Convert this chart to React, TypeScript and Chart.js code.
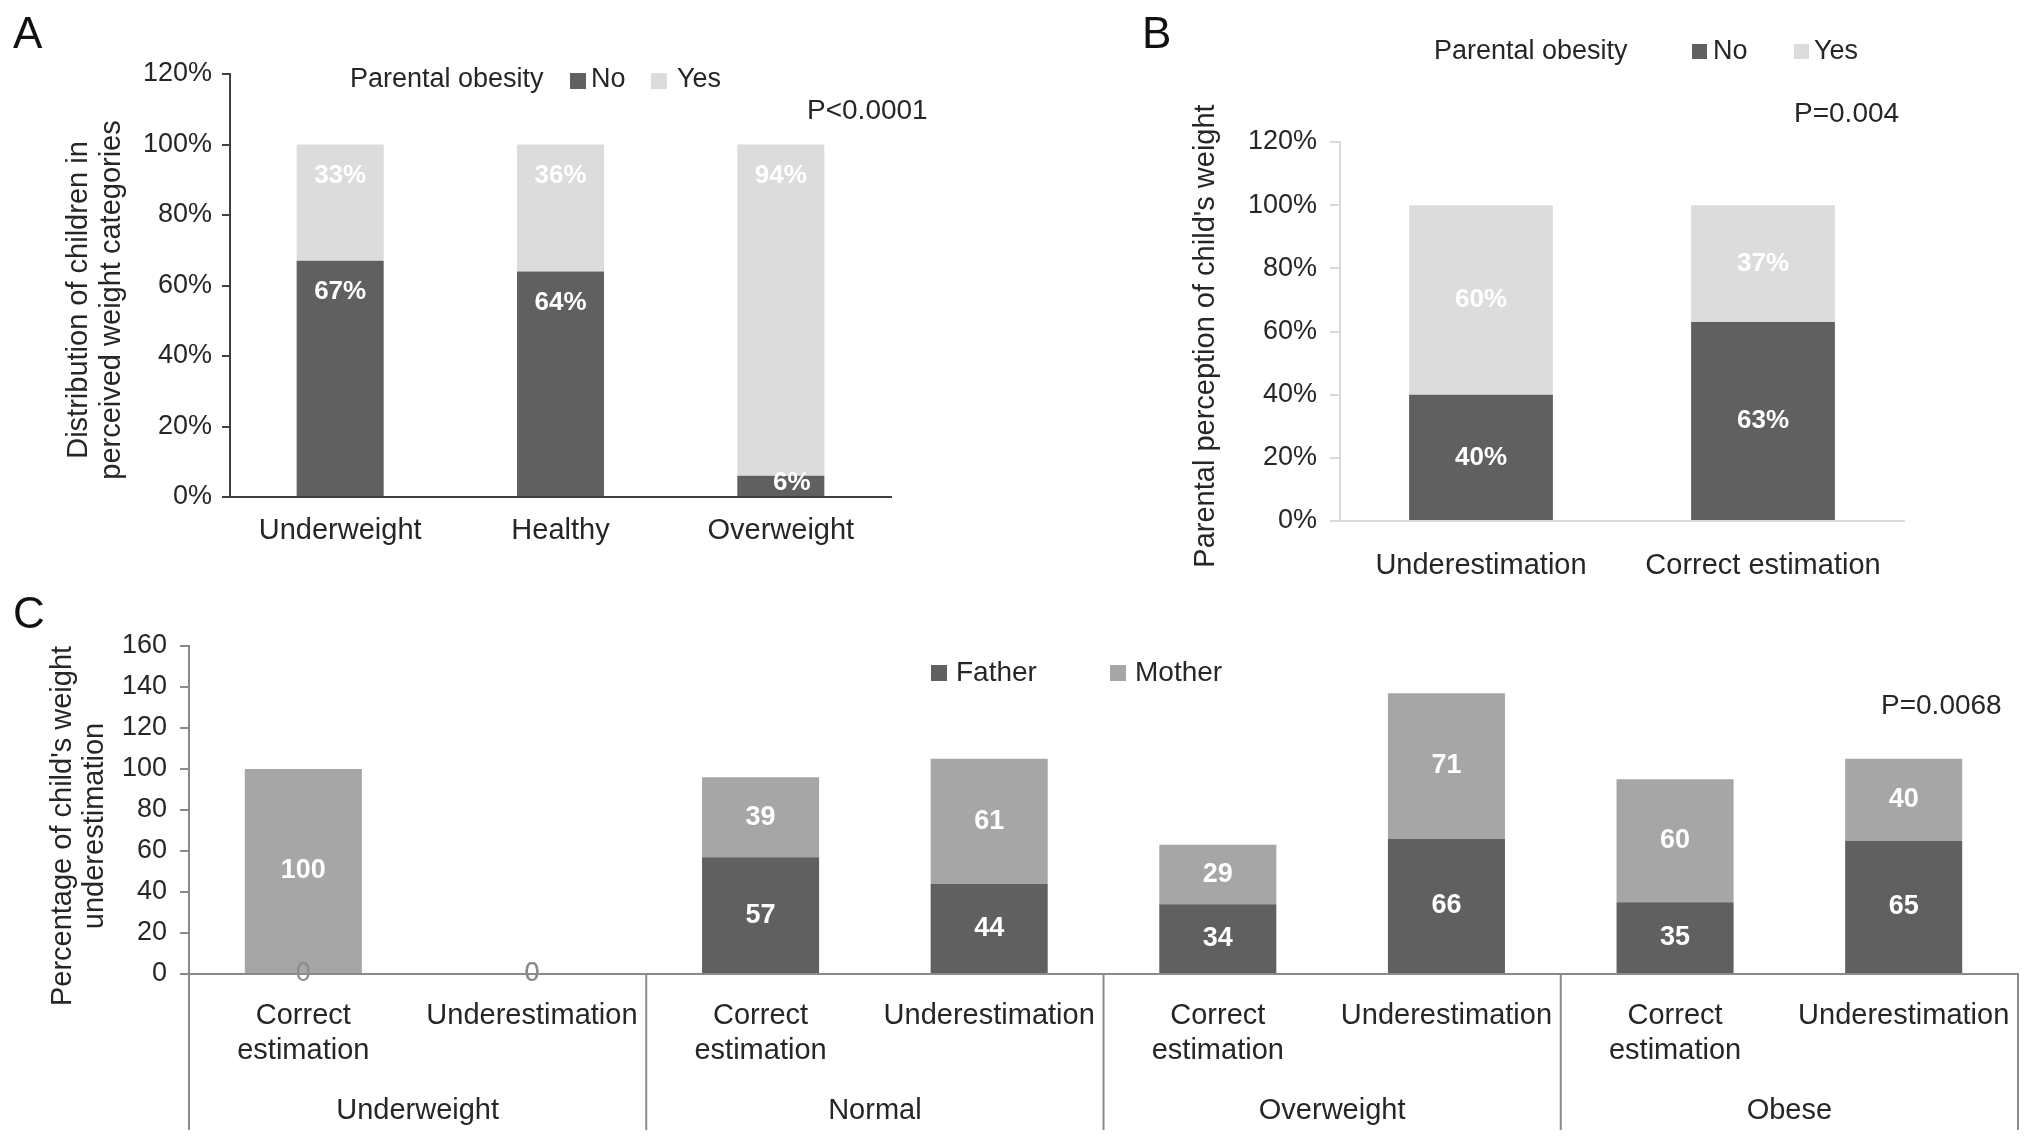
import React, { useEffect, useRef } from 'react';
import { Chart, registerables } from 'chart.js';

Chart.register(...registerables);

const FONT = "'Liberation Sans', Arial, Helvetica, sans-serif";
const TXT = '#262626';
const DARK = '#606060';
const LIGHT = '#dcdcdc';
const MID = '#a6a6a6';
const ZERO = '#8c8c8c';

// ---------- Panel A ----------
const categoriesA = ['Underweight', 'Healthy', 'Overweight'];
const noA = [67, 64, 6];
const yesA = [33, 36, 94];
const legendTitleA = 'Parental obesity';
const pValueA = 'P<0.0001';
const yTitleA = ['Distribution of children in', 'perceived weight categories'];

// ---------- Panel B ----------
const categoriesB = ['Underestimation', 'Correct estimation'];
const noB = [40, 63];
const yesB = [60, 37];
const legendTitleB = 'Parental obesity';
const pValueB = 'P=0.004';
const yTitleB = "Parental perception of child's weight";

// ---------- Panel C ----------
const subCategoriesC: (string | string[])[] = [
  ['Correct', 'estimation'], 'Underestimation',
  ['Correct', 'estimation'], 'Underestimation',
  ['Correct', 'estimation'], 'Underestimation',
  ['Correct', 'estimation'], 'Underestimation',
];
const groupsC = ['Underweight', 'Normal', 'Overweight', 'Obese'];
const fatherC = [0, 0, 57, 44, 34, 66, 35, 65];
const motherC = [100, 0, 39, 61, 29, 71, 60, 40];
const pValueC = 'P=0.0068';
const yTitleC = ["Percentage of child's weight", 'underestimation'];

const percentMax = 120;
const countMax = 160;
const tickStep = 20;

function txt(ctx: CanvasRenderingContext2D, s: string, x: number, y: number, size: number,
  align: CanvasTextAlign = 'left', baseline: CanvasTextBaseline = 'middle', color = TXT) {
  ctx.save();
  ctx.font = `${size}px ${FONT}`;
  ctx.fillStyle = color;
  ctx.textAlign = align;
  ctx.textBaseline = baseline;
  ctx.fillText(s, x, y);
  ctx.restore();
}

function rotTxt(ctx: CanvasRenderingContext2D, s: string, x: number, y: number, size: number) {
  ctx.save();
  ctx.translate(x, y);
  ctx.rotate(-Math.PI / 2);
  ctx.font = `${size}px ${FONT}`;
  ctx.fillStyle = TXT;
  ctx.textAlign = 'center';
  ctx.textBaseline = 'alphabetic';
  ctx.fillText(s, 0, 0);
  ctx.restore();
}

function segLabels(opts: { mode: 'top' | 'center'; size: number; suffix: string; topOffset?: number; showZero?: boolean }) {
  return {
    id: 'segLabels',
    afterDatasetsDraw(chart: any) {
      const ctx: CanvasRenderingContext2D = chart.ctx;
      ctx.save();
      ctx.textAlign = 'center';
      ctx.textBaseline = 'middle';
      chart.data.datasets.forEach((ds: any, di: number) => {
        const meta = chart.getDatasetMeta(di);
        meta.data.forEach((bar: any, i: number) => {
          const v = ds.data[i] as number;
          const p = bar.getProps(['x', 'y', 'base'], true);
          const label = `${v}${opts.suffix}`;
          if (v === 0) {
            if (!opts.showZero) return;
            ctx.font = `${opts.size}px ${FONT}`;
            ctx.fillStyle = ZERO;
            ctx.fillText(label, p.x, p.base);
            return;
          }
          ctx.font = `bold ${opts.size}px ${FONT}`;
          const top = Math.min(p.y, p.base);
          const bot = Math.max(p.y, p.base);
          let ly = (top + bot) / 2;
          let lx = p.x;
          if (opts.mode === 'top') {
            if (bot - top > 70) ly = top + (opts.topOffset || 30);
            else { ly = (top + bot) / 2 - 3; lx = p.x + 11; }
          }
          ctx.fillStyle = '#ffffff';
          ctx.fillText(label, lx, ly);
        });
      });
      ctx.restore();
    },
  };
}

function ChartCanvas({ left, top, width, height, build }: { left: number; top: number; width: number; height: number; build: () => any }) {
  const ref = useRef<HTMLCanvasElement>(null);
  useEffect(() => {
    const chart = new Chart(ref.current as HTMLCanvasElement, build());
    return () => chart.destroy();
  }, []);
  return (
    <canvas
      ref={ref}
      width={width}
      height={height}
      style={{ position: 'absolute', left, top, width, height }}
    />
  );
}

const tickFont = (size: number) => ({ family: FONT, size });

function buildA() {
  return {
    type: 'bar',
    data: {
      labels: categoriesA,
      datasets: [
        { label: 'No', data: noA, backgroundColor: DARK, categoryPercentage: 1, barPercentage: 0.395 },
        { label: 'Yes', data: yesA, backgroundColor: LIGHT, categoryPercentage: 1, barPercentage: 0.395 },
      ],
    },
    options: {
      responsive: false,
      animation: false,
      events: [],
      layout: { padding: { top: 74, right: 109, bottom: 0, left: 0 } },
      plugins: { legend: { display: false }, tooltip: { enabled: false } },
      scales: {
        x: {
          stacked: true,
          grid: { display: false },
          border: { display: true, color: '#404040', width: 2 },
          ticks: { font: tickFont(29), color: TXT, padding: 9 },
          afterFit: (s: any) => { s.height = 83; },
        },
        y: {
          stacked: true,
          min: 0,
          max: percentMax,
          grid: { display: true, drawOnChartArea: false, tickLength: 8, color: '#404040', lineWidth: 2 },
          border: { display: true, color: '#404040', width: 2 },
          ticks: { stepSize: tickStep, font: tickFont(27), color: TXT, padding: 10, callback: (v: any) => `${v}%` },
          afterFit: (s: any) => { s.width = 230; },
        },
      },
    },
    plugins: [
      segLabels({ mode: 'top', size: 26, suffix: '%', topOffset: 31 }),
      {
        id: 'annotA',
        afterDraw(chart: any) {
          const ctx = chart.ctx;
          const ds = chart.data.datasets;
          txt(ctx, 'A', 13, 48, 44, 'left', 'alphabetic', '#111');
          txt(ctx, legendTitleA, 350, 80, 27);
          ctx.fillStyle = ds[0].backgroundColor; ctx.fillRect(570, 73, 16, 16);
          txt(ctx, ds[0].label, 591, 80, 27);
          ctx.fillStyle = ds[1].backgroundColor; ctx.fillRect(651, 73, 16, 16);
          txt(ctx, ds[1].label, 677, 80, 27);
          txt(ctx, pValueA, 807, 111, 28);
          rotTxt(ctx, yTitleA[0], 87, 300, 29);
          rotTxt(ctx, yTitleA[1], 120, 300, 29);
        },
      },
    ],
  };
}

function buildB() {
  const OX = 1000;
  return {
    type: 'bar',
    data: {
      labels: categoriesB,
      datasets: [
        { label: 'No', data: noB, backgroundColor: DARK, categoryPercentage: 1, barPercentage: 0.51 },
        { label: 'Yes', data: yesB, backgroundColor: LIGHT, categoryPercentage: 1, barPercentage: 0.51 },
      ],
    },
    options: {
      responsive: false,
      animation: false,
      events: [],
      layout: { padding: { top: 142, right: 128, bottom: 0, left: 0 } },
      plugins: { legend: { display: false }, tooltip: { enabled: false } },
      scales: {
        x: {
          stacked: true,
          grid: { display: false },
          border: { display: true, color: '#d9d9d9', width: 2 },
          ticks: { font: tickFont(29), color: TXT, padding: 19.5 },
          afterFit: (s: any) => { s.height = 79; },
        },
        y: {
          stacked: true,
          min: 0,
          max: percentMax,
          grid: { display: true, drawOnChartArea: false, tickLength: 10, color: '#d9d9d9', lineWidth: 2 },
          border: { display: true, color: '#d9d9d9', width: 2 },
          ticks: { stepSize: tickStep, font: tickFont(27), color: TXT, padding: 13, callback: (v: any) => `${v}%` },
          afterFit: (s: any) => { s.width = 340; },
        },
      },
    },
    plugins: [
      segLabels({ mode: 'center', size: 26, suffix: '%' }),
      {
        id: 'annotB',
        afterDraw(chart: any) {
          const ctx = chart.ctx;
          const ds = chart.data.datasets;
          txt(ctx, 'B', 1142 - OX, 48, 44, 'left', 'alphabetic', '#111');
          txt(ctx, legendTitleB, 1434 - OX, 52, 27);
          ctx.fillStyle = ds[0].backgroundColor; ctx.fillRect(1692 - OX, 44, 15, 15);
          txt(ctx, ds[0].label, 1713 - OX, 52, 27);
          ctx.fillStyle = ds[1].backgroundColor; ctx.fillRect(1794 - OX, 44, 15, 15);
          txt(ctx, ds[1].label, 1814 - OX, 52, 27);
          txt(ctx, pValueB, 1794 - OX, 114, 28);
          rotTxt(ctx, yTitleB, 1214 - OX, 336, 29);
        },
      },
    ],
  };
}

function buildC() {
  const OY = 580;
  return {
    type: 'bar',
    data: {
      labels: subCategoriesC,
      datasets: [
        { label: 'Father', data: fatherC, backgroundColor: DARK, categoryPercentage: 1, barPercentage: 0.512 },
        { label: 'Mother', data: motherC, backgroundColor: MID, categoryPercentage: 1, barPercentage: 0.512 },
      ],
    },
    options: {
      responsive: false,
      animation: false,
      events: [],
      layout: { padding: { top: 66, right: 14, bottom: 0, left: 0 } },
      plugins: { legend: { display: false }, tooltip: { enabled: false } },
      scales: {
        x: {
          stacked: true,
          grid: { display: false },
          border: { display: true, color: '#8a8a8a', width: 2 },
          ticks: { font: { family: FONT, size: 29, lineHeight: 1.2 }, color: TXT, padding: 16.5, maxRotation: 0, autoSkip: false },
          afterFit: (s: any) => { s.height = 169; },
        },
        y: {
          stacked: true,
          min: 0,
          max: countMax,
          grid: { display: true, drawOnChartArea: false, tickLength: 9, color: '#8a8a8a', lineWidth: 2 },
          border: { display: true, color: '#8a8a8a', width: 2 },
          ticks: { stepSize: tickStep, font: tickFont(27), color: TXT, padding: 13 },
          afterFit: (s: any) => { s.width = 189; },
        },
      },
    },
    plugins: [
      segLabels({ mode: 'center', size: 27, suffix: '', showZero: true }),
      {
        id: 'annotC',
        afterDraw(chart: any) {
          const ctx: CanvasRenderingContext2D = chart.ctx;
          const ds = chart.data.datasets;
          const xs = chart.scales.x;
          const bottom = chart.chartArea.bottom;
          ctx.save();
          ctx.strokeStyle = '#8a8a8a';
          ctx.lineWidth = 2;
          for (let k = 0; k <= groupsC.length; k++) {
            const x = xs.getPixelForValue(2 * k - 0.5);
            ctx.beginPath();
            ctx.moveTo(x, bottom);
            ctx.lineTo(x, 1130 - OY);
            ctx.stroke();
          }
          ctx.restore();
          groupsC.forEach((g, k) => {
            const x = (xs.getPixelForValue(2 * k - 0.5) + xs.getPixelForValue(2 * k + 1.5)) / 2;
            txt(ctx, g, x, 1111 - OY, 29, 'center');
          });
          txt(ctx, 'C', 13, 628 - OY, 44, 'left', 'alphabetic', '#111');
          ctx.fillStyle = ds[0].backgroundColor; ctx.fillRect(931, 665 - OY, 16, 16);
          txt(ctx, ds[0].label, 956, 673 - OY, 28);
          ctx.fillStyle = ds[1].backgroundColor; ctx.fillRect(1110, 665 - OY, 16, 16);
          txt(ctx, ds[1].label, 1135, 673 - OY, 28);
          txt(ctx, pValueC, 1881, 706 - OY, 28);
          rotTxt(ctx, yTitleC[0], 71, 826 - OY, 29);
          rotTxt(ctx, yTitleC[1], 103, 826 - OY, 29);
        },
      },
    ],
  };
}

export default function App() {
  return (
    <div style={{ position: 'fixed', left: 0, top: 0, width: 2032, height: 1143, background: '#ffffff', overflow: 'hidden' }}>
      <ChartCanvas left={0} top={0} width={1000} height={580} build={buildA} />
      <ChartCanvas left={1000} top={0} width={1032} height={600} build={buildB} />
      <ChartCanvas left={0} top={580} width={2032} height={563} build={buildC} />
    </div>
  );
}
